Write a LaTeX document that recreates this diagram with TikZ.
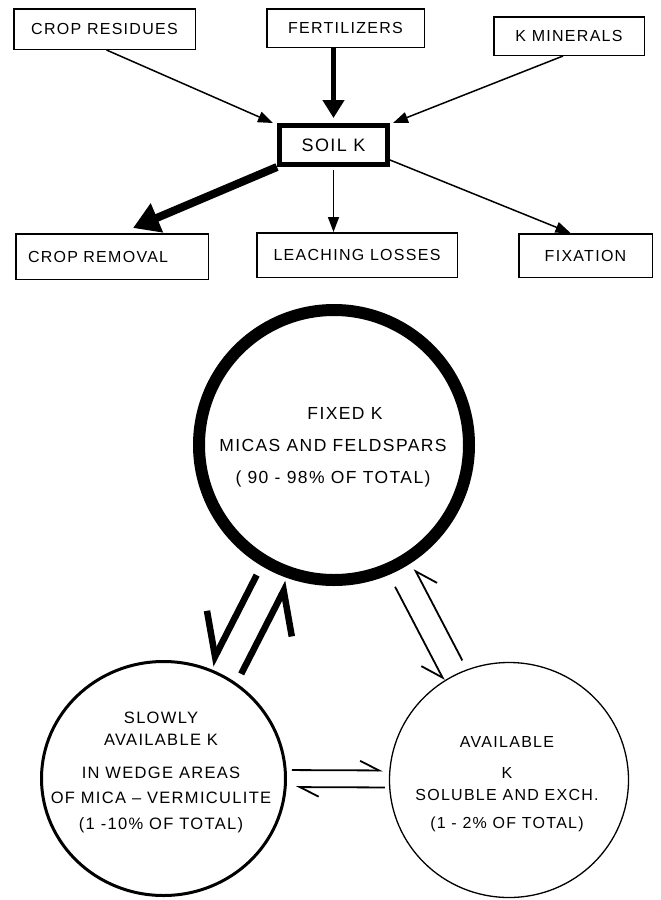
\documentclass[tikz,border=0pt]{standalone}
\usepackage{fontspec}
\setmainfont{Liberation Sans}[LetterSpace=8]
\usetikzlibrary{arrows.meta,shapes.geometric}
\tikzset{
  box/.style={draw, line width=1.5pt, inner sep=0pt, font=\fontsize{16}{19}\selectfont},
  soilbox/.style={draw, line width=5pt, inner sep=0pt, font=\fontsize{18}{21}\selectfont},
  thinarr/.style={line width=1.5pt, -{Triangle[length=15pt,width=11pt]}},
  fatarr/.style={line width=5pt, -{Triangle[length=18pt,width=21pt]}},
  hugearr/.style={line width=8pt, -{Triangle[length=26pt,width=30pt]}},
  thickharp/.style={line width=6.5pt, -{Straight Barb[right,length=37pt,width=56pt]}},
  thinharp/.style={line width=1.8pt, -{Straight Barb[right,length=20pt,width=27pt]}},
  flatharp/.style={line width=1.8pt, -{Straight Barb[left,length=19pt,width=19pt]}},
  ctext/.style={align=center, inner sep=0pt},
}
\begin{document}
\begin{tikzpicture}[x=1pt,y=-1pt]
\useasboundingbox (0,0) rectangle (661,900);
\fill[white] (0,0) rectangle (661,900);

% top flow chart
\node[box, minimum width=181.5pt, minimum height=40.5pt] (cres) at (104.5,29) {CROP RESIDUES};
\node[box, minimum width=157.5pt, minimum height=38.5pt] (fert) at (345.5,28) {FERTILIZERS};
\node[box, minimum width=150.5pt, minimum height=38.5pt] (kmin) at (569,36) {K MINERALS};
\node[soilbox, minimum width=108pt, minimum height=39pt] (soil) at (333.5,145) {SOIL K};
\node[box, minimum width=192.5pt, minimum height=45.5pt, text width=168pt, align=left] (crem) at (112,256.5) {CROP REMOVAL};
\node[box, minimum width=200.5pt, minimum height=44.5pt] (leach) at (357,255) {LEACHING LOSSES};
\node[box, minimum width=133.5pt, minimum height=43.5pt] (fix) at (585.5,255.5) {FIXATION};

\draw[thinarr] ([xshift=2pt]cres.south) -- ([xshift=-4pt]soil.north west);
\draw[fatarr, shorten >=5pt] (soil.north |- fert.south) -- (soil.north);
\draw[thinarr] ([xshift=-6pt]kmin.south) -- ([xshift=3pt]soil.north east);
\draw[hugearr] (soil.south west) -- ([xshift=21pt,yshift=5pt]crem.north);
\draw[thinarr] ([yshift=-3pt]soil.south) -- (soil.south |- leach.north);
\draw[thinarr] ([yshift=7pt]soil.south east) -- ([xshift=-15pt]fix.north);

% lower cycle
\node[circle, draw, line width=12pt, minimum size=270pt, inner sep=0pt] (fixed) at (334,445) {};
\node[ellipse, draw, line width=3pt, minimum width=244pt, minimum height=234pt, inner sep=0pt] (slow) at (163.5,778.5) {};
\node[ellipse, draw, line width=1.3pt, minimum width=239pt, minimum height=235pt, inner sep=0pt] (avail) at (509,780) {};

\node[ctext, font=\fontsize{17.5}{32}\selectfont] (fixedtxt) at (333,447)
  {\hspace*{24pt}FIXED K\\MICAS AND FELDSPARS\\( 90 - 98\% OF TOTAL)};
\node[ctext, font=\fontsize{16.5}{25}\selectfont] (slowtxt) at (161,772)
  {SLOWLY\\[-3pt]AVAILABLE K\\[8pt]IN WEDGE AREAS\\OF MICA – VERMICULITE\\[1pt](1 -10\% OF TOTAL)};
\node[ctext, font=\fontsize{16}{26}\selectfont] (availtxt) at (507,784)
  {AVAILABLE\\[5pt]K\\[-4pt]SOLUBLE AND EXCH.\\[2pt](1 - 2\% OF TOTAL)};

\draw[thickharp, shorten <=10pt, shorten >=3pt, transform canvas={shift={(-8.6pt,4.35pt)}}] (fixed) -- (slow);
\draw[thickharp, shorten <=9pt, shorten >=2pt, transform canvas={shift={(19.2pt,-9.8pt)}}] (slow) -- (fixed);
\draw[thinharp, shorten <=13pt, transform canvas={shift={(-10.2pt,-5.3pt)}}] (fixed) -- (avail);
\draw[thinharp, shorten <=9pt, shorten >=6pt, transform canvas={shift={(12.4pt,6.5pt)}}] (avail) -- (fixed);
\draw[flatharp, shorten <=5pt, shorten >=6pt, transform canvas={shift={(0pt,9pt)}}] (slow) -- (avail);
\draw[flatharp, shorten <=4pt, shorten >=9pt, transform canvas={shift={(0pt,-8pt)}}] (avail) -- (slow);
\end{tikzpicture}
\end{document}
